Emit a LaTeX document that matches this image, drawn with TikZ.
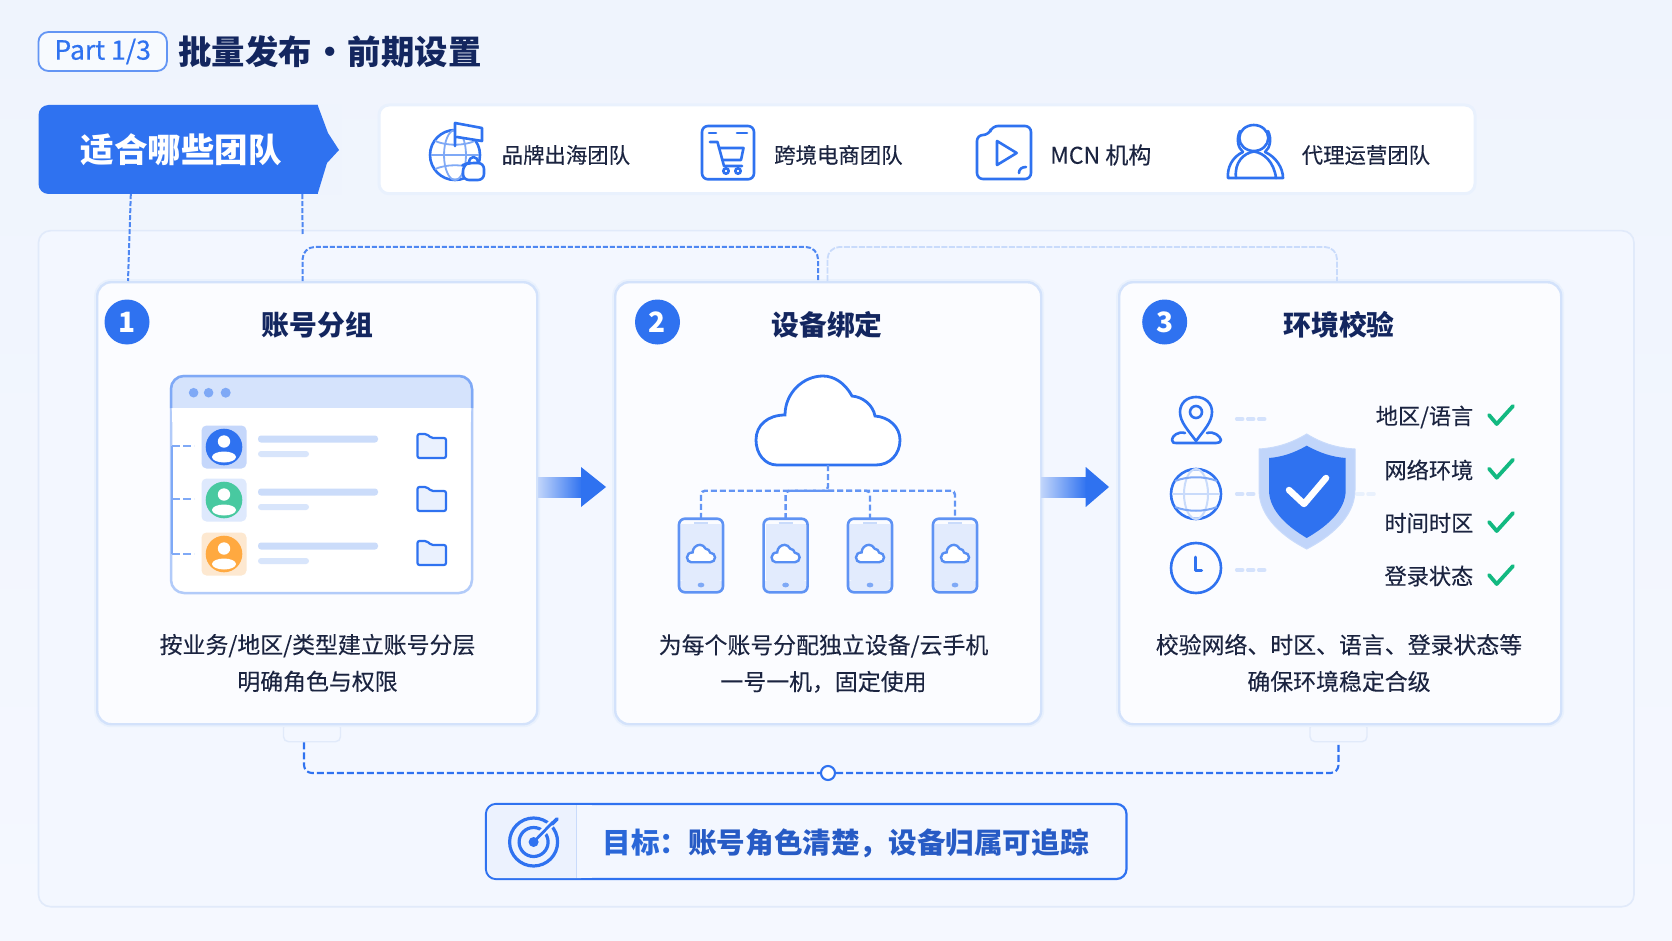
\documentclass[tikz,border=0pt]{standalone}
\usepackage{fontspec}
\setmainfont{Noto Sans CJK SC}
\newfontfamily\medfont{Noto Sans CJK SC}[FakeBold=0.15]
\newfontfamily\pillfont{Noto Sans CJK SC}[FakeBold=0.45]
\definecolor{mainblue}{HTML}{2F72F0}
\definecolor{ink}{HTML}{1B2440}
\definecolor{navy}{HTML}{13265F}
\definecolor{bgtop}{HTML}{EFF4FD}
\definecolor{bgbot}{HTML}{F5F8FF}
\definecolor{panelfill}{HTML}{F3F7FF}
\definecolor{panelline}{HTML}{E1EAFA}
\definecolor{cardline}{HTML}{D3E2FB}
\definecolor{cardhalo}{HTML}{E9F1FD}
\definecolor{cardfill}{HTML}{FBFCFF}
\definecolor{softblue}{HTML}{C9DBFB}
\definecolor{midblue}{HTML}{7FA9F6}
\definecolor{barblue}{HTML}{CBDCFA}
\definecolor{okgreen}{HTML}{12B981}
\definecolor{avatarorange}{HTML}{FFA940}
\definecolor{tileorange}{HTML}{FDE8D0}
\definecolor{avatargreen}{HTML}{48C9A0}
\newcommand{\fsz}[1]{\fontsize{#1}{#1}\selectfont}
\tikzset{
  cardbox/.style={draw=cardline,line width=2.4pt,fill=cardfill,rounded corners=14pt,inner sep=0pt,minimum width=#1,minimum height=442pt,anchor=north west,preaction={draw=cardhalo,line width=6pt}},
  cardtitle/.style={font=\fsz{27.8}\bfseries,text=navy,inner sep=0pt},
  numdot/.style={circle,fill=mainblue,text=white,font=\fsz{28}\bfseries,minimum size=45pt,inner sep=0pt},
  desc/.style={font=\medfont\fontsize{22.9}{36.7}\selectfont,text=ink,align=center,inner sep=0pt},
  teamlabel/.style={font=\medfont\fsz{21.4},text=ink,anchor=west,inner sep=0pt},
  checklabel/.style={font=\medfont\fsz{22.2},text=ink,anchor=east,inner sep=0pt},
  iconline/.style={draw=mainblue,line width=2.6pt,line join=round,line cap=round},
  linkfine/.style={draw=mainblue!85,line width=2pt,dash pattern=on 5pt off 2pt},
  linksoft/.style={draw=softblue,line width=1.8pt,dash pattern=on 6pt off 1.5pt},
  linkmain/.style={draw=mainblue,line width=2.1pt,dash pattern=on 7pt off 3pt},
  phonelink/.style={draw=mainblue!75,line width=2.4pt,dash pattern=on 6pt off 3pt,rounded corners=4pt},
  softdash/.style={draw=softblue!80!white,line width=3.5pt,dash pattern=on 6pt off 5pt,line cap=round},
  tabbox/.style={draw=panelline,line width=1.4pt,fill=panelfill,rounded corners=5pt,minimum width=57pt,minimum height=19pt,inner sep=0pt,anchor=north},
}
\newcommand{\cloudshape}{(-51,0) -- (48,0) .. controls (62,0) and (72,-11) .. (72,-25) .. controls (72,-38) and (61,-48) .. (47,-49) .. controls (45,-60) and (35,-68) .. (24,-69) .. controls (17,-82) and (6,-89) .. (-5,-89) .. controls (-25,-89) and (-43,-72) .. (-43,-50) .. controls (-60,-50) and (-72,-40) .. (-72,-25) .. controls (-72,-11) and (-63,0) .. (-51,0) -- cycle}
% avatar: x, y, tile colour, disc colour
\newcommand{\avatarrow}[4]{%
  \begin{scope}[shift={(#1,#2)}]
    \fill[#3,rounded corners=5pt] (-22.5,-21.5) rectangle (22.5,21.5);
    \fill[#4] (0,0) circle (18.3pt);
    \fill[white] (0,-5.5) circle (6.2pt);
    \fill[white] (0,10) ellipse (12pt and 5.5pt);
    \fill[barblue,rounded corners=3pt] (34,-11.5) rectangle (154,-4.5);
    \fill[barblue!75,rounded corners=3pt] (34,4) rectangle (85,10);
    \draw[mainblue,line width=2.2pt,fill=mainblue!10,line join=round,rounded corners=2pt] (193.5,-13) -- (203,-13) -- (207,-9) -- (222,-9) -- (222,11) -- (193.5,11) -- cycle;
  \end{scope}}
\newcommand{\phoneicon}[1]{%
  \begin{scope}[shift={(#1,518.7)}]
    \fill[mainblue!14] (-20,5) rectangle (20,61);
    \fill[mainblue!14,rounded corners=5pt] (-22,73.6) -- (-22,61) -- (22,61) -- (22,73.6) -- cycle;
    \draw[draw=midblue!60!mainblue,line width=2.6pt,rounded corners=6pt] (-22,0) rectangle (22,73.6);
    \draw[softblue,line width=2pt] (-7,4) -- (7,4);
    \fill[midblue] (0,66.3) ellipse (3.4pt and 2.4pt);
    \begin{scope}[shift={(0,43.5)},scale=0.195]
      \draw[draw=midblue!50!mainblue,line width=2.4pt,fill=white] \cloudshape;
    \end{scope}
  \end{scope}}
\newcommand{\okmark}[1]{\draw[okgreen,line width=3.8pt,line cap=round,line join=round] (1489,#1+415) -- (1496.7,#1+424) -- (1513,#1+406);}
\begin{document}
\begin{tikzpicture}[x=1pt,y=-1pt]
\useasboundingbox (0,0) rectangle (1672,941);
\shade[top color=bgtop,bottom color=bgbot] (0,0) rectangle (1672,941);
% outer panel
\draw[panelline,line width=1.6pt,fill=panelfill,rounded corners=12pt] (38.5,230.7) rectangle (1634,906.7);
% heading
\node[draw=mainblue!75,line width=1.8pt,fill=white!50!bgtop,rounded corners=10pt,minimum width=128.5pt,minimum height=39pt,inner sep=0pt,text=mainblue,font=\pillfont\fsz{26.5}] (partpill) at (102.7,51.5) {Part 1/3};
\node[font=\fsz{33.4}\bfseries,text=navy,inner sep=0pt] (headline) at (330,51.5) {\spaceskip=1.2pt\relax 批量发布 · 前期设置};
% strip of teams
\draw[cardhalo,line width=3pt,fill=white,rounded corners=10pt] (379,105) rectangle (1475,193.7);
% banner
\fill[mainblue,rounded corners=10pt] (330,105) -- (38.5,105) -- (38.5,194) -- (330,194) -- cycle;
\fill[bgtop] (317.6,104) -- (342,104) -- (342,195) -- (317.6,195) -- cycle;
\fill[mainblue,line join=round] (300,105) -- (317.6,105) -- (328,133) -- (339,150) -- (327,163) -- (317.6,194) -- (300,194) -- cycle;
\node[font=\fsz{33.5}\bfseries,text=white,inner sep=0pt,minimum width=279pt,minimum height=89pt] (banner) at (178,149.5) {\hspace*{6pt}适合哪些团队};
% team items
\node[teamlabel] (teamA) at (501.5,155) {品牌出海团队};
\node[teamlabel] (teamB) at (774,155) {跨境电商团队};
\node[teamlabel,font=\medfont\fsz{23}] (teamC) at (1050,155) {MCN 机构};
\node[teamlabel] (teamD) at (1301.5,155) {代理运营团队};
% brand icon
\draw[iconline] (455,155) circle (25pt);
\draw[midblue,line width=1.8pt] (455,155) ellipse (11pt and 25pt);
\draw[midblue,line width=1.8pt] (431,155) -- (479,155);
\draw[midblue,line width=1.8pt] (435,141) .. controls (447,146) and (463,146) .. (475,141);
\draw[midblue,line width=1.8pt] (435,169) .. controls (447,164) and (463,164) .. (475,169);
\draw[iconline,fill=white] (455,146) -- (455,123) -- (482,128) -- (482,141) -- (457,137);
\draw[iconline,fill=white,rounded corners=6pt] (463,165) -- (463,180) -- (484,180) -- (484,163) -- (468,163) -- cycle;
\draw[iconline] (469,163) .. controls (469,155) and (478,155) .. (478,163);
% cart icon
\draw[iconline,rounded corners=6pt] (702,126) rectangle (754,179.3);
\draw[iconline] (709,133) -- (716,133) (737,133) -- (747,133);
\draw[iconline] (710,142) -- (717.5,142) -- (724,166) -- (742,166);
\draw[iconline] (719,148) -- (743.5,148) -- (741,160) -- (722.5,160);
\draw[iconline] (726,171) circle (2.7pt) (738,171) circle (2.7pt);
% video icon
\draw[iconline,rounded corners=6pt] (992,126) -- (1031,126) -- (1031,179) -- (977,179) -- (977,135) -- (989,135) -- cycle;
\draw[iconline] (997,141) -- (1016.7,153) -- (997,165) -- cycle;
\draw[iconline] (1019,173) .. controls (1019,169) and (1022,167) .. (1026,167);
% user icon
\draw[iconline] (1253.8,138) ellipse (14.5pt and 13pt);
\draw[iconline] (1236,178) .. controls (1234,162) and (1244,153) .. (1254,151.5) .. controls (1264,153) and (1274,162) .. (1276,178) -- cycle;
\draw[iconline] (1240,131) .. controls (1236,139) and (1238,148) .. (1243,152);
\draw[iconline] (1268,131) .. controls (1272,139) and (1270,148) .. (1265,152);
\draw[iconline] (1243,152) .. controls (1232,157) and (1227,168) .. (1228,178) -- (1236,178);
\draw[iconline] (1265,152) .. controls (1276,157) and (1283,168) .. (1283,178) -- (1276,178);
% tabs, junction and connectors
\node[tabbox] (tabL) at (312,722) {};
\node[tabbox] (tabR) at (1338.5,722) {};
% cards
\node[cardbox=440pt] (card1) at (96,281) {};
\node[cardbox=426pt] (card2) at (614,281) {};
\node[cardbox=442pt] (card3) at (1118,281) {};
\node[circle,draw=mainblue,line width=2.1pt,fill=white,minimum size=14pt,inner sep=0pt] (junction) at (828,773) {};
\draw[linkmain,rounded corners=8pt] ([xshift=-8pt]tabL.south) |- (junction);
\draw[linkmain,rounded corners=8pt] (junction) -| (tabR.south);
\draw[linkfine] ([xshift=92.5pt]banner.south west) -- ([xshift=32pt]card1.north west);
\coordinate (stubend) at (302.6,234);
\draw[linkfine] ([xshift=264pt]banner.south west) -- (stubend);
\draw[linkfine,rounded corners=12pt] ([xshift=206.6pt]card1.north west) -- ++(0,-34) -| ([xshift=204pt]card2.north west);
\draw[linksoft,rounded corners=12pt] ([xshift=213.5pt]card2.north west) -- ++(0,-34) -| ([xshift=219pt]card3.north west);
% card headers
\node[numdot] (badgeA) at (127,322) {1};
\node[numdot] (badgeB) at (657.5,322) {2};
\node[numdot] (badgeC) at (1164.7,322) {3};
\node[cardtitle] (titleA) at (317.5,324.5) {账号分组};
\node[cardtitle] (titleB) at (827,324.5) {设备绑定};
\node[cardtitle] (titleC) at (1339,324.5) {环境校验};
\node[desc] (descA) at (317.5,663) {按业务/地区/类型建立账号分层\\明确角色与权限};
\node[desc] (descB) at (823.5,663.5) {为每个账号分配独立设备/云手机\\一号一机，固定使用};
\node[desc] (descC) at (1339,663) {校验网络、时区、语言、登录状态等\\确保环境稳定合级};
% window illustration
\draw[softblue!85!mainblue,line width=2.5pt,fill=white,rounded corners=13pt] (171,376) rectangle (472,593);
\fill[mainblue!20,rounded corners=13pt] (171,420) -- (171,376) -- (472,376) -- (472,420) -- cycle;
\fill[white] (172.2,408) rectangle (470.8,422);
\draw[midblue,line width=2.5pt,rounded corners=13pt] (171,408) -- (171,376) -- (472,376) -- (472,408);
\fill[midblue] (193.6,392.7) circle (4.8pt) (208.6,392.7) circle (4.8pt) (225.7,392.7) circle (5pt);
\draw[midblue,line width=2.2pt] (172,445.7) -- (172,554);
\foreach \yy in {445.7,499,554}{\draw[midblue,line width=2.2pt,dash pattern=on 8pt off 3pt] (172,\yy) -- (194,\yy);}
\avatarrow{224}{447}{mainblue!28}{mainblue}
\avatarrow{224}{500}{mainblue!16}{avatargreen}
\avatarrow{224}{554}{tileorange}{avatarorange}
% cloud and phones
\begin{scope}[shift={(828,465)}]
  \draw[mainblue,line width=2.8pt,fill=white] \cloudshape;
\end{scope}
\draw[phonelink] (828,465) -- (828,490.7) -| (701,518.7);
\draw[phonelink] (828,490.7) -| (955,518.7);
\draw[phonelink] (828,490.7) -| (785.6,518.7);
\draw[phonelink] (828,490.7) -| (870,518.7);
\phoneicon{701}\phoneicon{785.6}\phoneicon{870}\phoneicon{955}
% arrows between cards
\shade[left color=mainblue!30,right color=mainblue] (538,477) rectangle (582,497);
\fill[mainblue,line join=round] (581,467) -- (606,487) -- (581,507) -- cycle;
\shade[left color=mainblue!30,right color=mainblue] (1041,477) rectangle (1086.7,497);
\fill[mainblue,line join=round] (1085.7,467) -- (1109,487) -- (1085.7,507) -- cycle;
% environment icons
\draw[iconline] (1196,441) .. controls (1188,430) and (1180,422) .. (1180,412) .. controls (1180,403) and (1187,397) .. (1196,397) .. controls (1205,397) and (1212,403) .. (1212,412) .. controls (1212,422) and (1204,430) .. (1196,441) -- cycle;
\draw[iconline] (1196,412) circle (6pt);
\draw[iconline] (1185,433) .. controls (1178,431) and (1172,436) .. (1172,440) .. controls (1172,443) and (1174,443) .. (1176,443) -- (1216,443) .. controls (1219,443) and (1221,442) .. (1221,440) .. controls (1220,436) and (1214,431) .. (1207,433);
\draw[iconline] (1196,494) circle (25pt);
\draw[softblue,line width=2pt] (1196,494) ellipse (12pt and 25pt);
\draw[softblue,line width=2pt] (1172,494) -- (1220,494);
\draw[midblue,line width=2pt] (1175,481) .. controls (1188,476) and (1204,476) .. (1217,481);
\draw[midblue,line width=2pt] (1175,507) .. controls (1188,512) and (1204,512) .. (1217,507);
\draw[iconline] (1196,568) circle (25pt);
\draw[iconline,line width=3pt] (1195,557) -- (1195,570) -- (1201.7,570);
\draw[softdash] (1236.7,419) -- (1268,419);
\draw[softdash] (1236.7,494) -- (1258,494);
\draw[softdash] (1236.7,570) -- (1268,570);
\draw[softdash,draw=cardhalo] (1357,494) -- (1377,494);
% shield
\draw[softblue,line width=1pt,fill=mainblue!30] (1306.7,434) .. controls (1290,444) and (1275,448) .. (1259,449) -- (1259,490) .. controls (1259,518) and (1285,538) .. (1306.7,549) .. controls (1328,538) and (1355,518) .. (1355,490) -- (1355,449) .. controls (1338,448) and (1323,444) .. (1306.7,434) -- cycle;
\fill[mainblue] (1306.7,445.7) .. controls (1294,453) and (1282,457) .. (1269,458) -- (1269,490) .. controls (1269,512) and (1290,528) .. (1306.7,538) .. controls (1324,528) and (1345.7,512) .. (1345.7,490) -- (1345.7,458) .. controls (1332,457) and (1320,453) .. (1306.7,445.7) -- cycle;
\draw[white,line width=6.5pt,line cap=round,line join=round] (1289,490) -- (1304,504) -- (1326,478);
% checks
\node[checklabel] (chkA) at (1473.5,417) {地区/语言};
\node[checklabel] (chkB) at (1473.5,470) {网络环境};
\node[checklabel] (chkC) at (1473.5,523) {时间时区};
\node[checklabel] (chkD) at (1473.5,576) {登录状态};
\okmark{0}\okmark{53.7}\okmark{107}\okmark{160}
% goal box
\draw[mainblue,line width=2.2pt,fill=panelfill,rounded corners=10pt] (486,804) rectangle (1126.5,879);
\fill[mainblue!9,rounded corners=9pt] (590,805) -- (487,805) -- (487,878) -- (590,878) -- cycle;
\fill[panelfill] (576,805) rectangle (592,878);
\draw[softblue,line width=1pt] (576,805) -- (576,878);
\draw[mainblue,line width=3.2pt] (533.6,842) circle (24pt);
\draw[mainblue,line width=3.2pt] (533.6,842) circle (14.5pt);
\fill[mainblue] (533.6,842) circle (5pt);
\draw[panelfill,line width=7pt] (540,835) -- (556,819);
\draw[mainblue,line width=2.8pt,line cap=round] (533.6,842) -- (553,822);
\draw[mainblue,line width=3.8pt,line cap=round] (552,824) -- (557,819);
\node[font=\fsz{28.6}\bfseries,inner sep=0pt,text=mainblue!90!black] (goaltext) at (845.5,843) {目标：\textcolor{mainblue!70!navy}{账号角色清楚，设备归属可追踪}};
\end{tikzpicture}
\end{document}
